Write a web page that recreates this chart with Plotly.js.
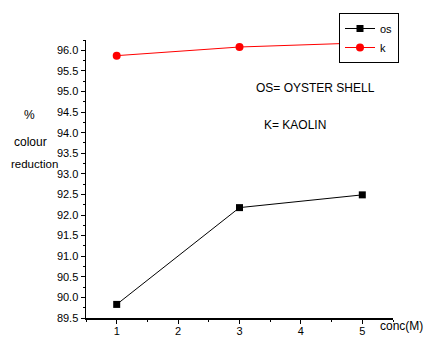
<!DOCTYPE html>
<html><head><meta charset="utf-8">
<script src="https://cdn.plot.ly/plotly-3.0.1.min.js"></script>
<style>body{margin:0;background:#fff}#c{width:424px;height:339px}</style>
</head><body><div id="c"></div>
<script>
const conc = [1, 3, 5];
const osValues = [89.83, 92.18, 92.49];
const kValues = [95.87, 96.08, 96.18];
const seriesNames = ['os', 'k'];

const font = {family: 'Liberation Sans, Arial, sans-serif', color: '#000'};
const L = 86, R = 31, T = 40, B = 21, W = 424, H = 339;
const pw = W - L - R, ph = H - T - B;
const px = x => (x - L) / pw;
const py = y => (H - B - y) / ph;
const data = [
  {x: conc, y: osValues, name: seriesNames[0], mode: 'lines+markers', type: 'scatter',
   line: {color: '#000', width: 1}, marker: {symbol: 'square', size: 7, color: '#000'}},
  {x: conc, y: kValues, name: seriesNames[1], mode: 'lines+markers', type: 'scatter',
   line: {color: '#ff0000', width: 1}, marker: {symbol: 'circle', size: 8, color: '#ff0000'}}
];
const layout = {
  width: W, height: H,
  margin: {l: L, r: R, t: T, b: B},
  paper_bgcolor: '#fff', plot_bgcolor: '#fff',
  font: Object.assign({size: 11}, font),
  showlegend: true,
  legend: {x: px(339), y: py(13), xanchor: 'left', yanchor: 'top', bordercolor: '#000', borderwidth: 1,
           bgcolor: '#fff', font: Object.assign({size: 11}, font), tracegroupgap: 0, itemwidth: 30},
  xaxis: {range: [0.5, 5.5], dtick: 1, tick0: 0, showline: true, linecolor: '#000', linewidth: 1.5,
          ticks: 'outside', ticklen: 4, tickcolor: '#000', showgrid: false, zeroline: false,
          ticklabelstandoff: -2,
          tickfont: Object.assign({size: 11}, font),
          minor: {ticks: 'outside', ticklen: 2, dtick: 0.5, tickcolor: '#000', showgrid: false}},
  yaxis: {range: [89.5, 96.25], dtick: 0.5, tick0: 89.5, tickformat: '.1f', showline: true, linecolor: '#000', linewidth: 1.5,
          ticks: 'outside', ticklen: 4, tickcolor: '#000', showgrid: false, zeroline: false,
          tickfont: Object.assign({size: 11}, font),
          minor: {ticks: 'outside', ticklen: 2, dtick: 0.25, tickcolor: '#000', showgrid: false}},
  annotations: [
    {text: 'OS= OYSTER SHELL', xref: 'paper', yref: 'paper', x: px(254), y: py(88), xanchor: 'left', yanchor: 'middle', showarrow: false, font: Object.assign({size: 12}, font)},
    {text: 'K= KAOLIN', xref: 'paper', yref: 'paper', x: px(262), y: py(125), xanchor: 'left', yanchor: 'middle', showarrow: false, font: Object.assign({size: 12}, font)},
    {text: '%', xref: 'paper', yref: 'paper', x: px(29), y: py(115), xanchor: 'center', yanchor: 'middle', showarrow: false, font: Object.assign({size: 12}, font)},
    {text: 'colour', xref: 'paper', yref: 'paper', x: px(12), y: py(142), xanchor: 'left', yanchor: 'middle', showarrow: false, font: Object.assign({size: 12}, font)},
    {text: 'reduction', xref: 'paper', yref: 'paper', x: px(9), y: py(164), xanchor: 'left', yanchor: 'middle', showarrow: false, font: Object.assign({size: 11.5}, font)},
    {text: 'conc(M)', xref: 'paper', yref: 'paper', x: px(378), y: py(326), xanchor: 'left', yanchor: 'middle', showarrow: false, font: Object.assign({size: 12}, font)}
  ]
};
Plotly.newPlot('c', data, layout, {staticPlot: true, displayModeBar: false});
</script></body></html>
